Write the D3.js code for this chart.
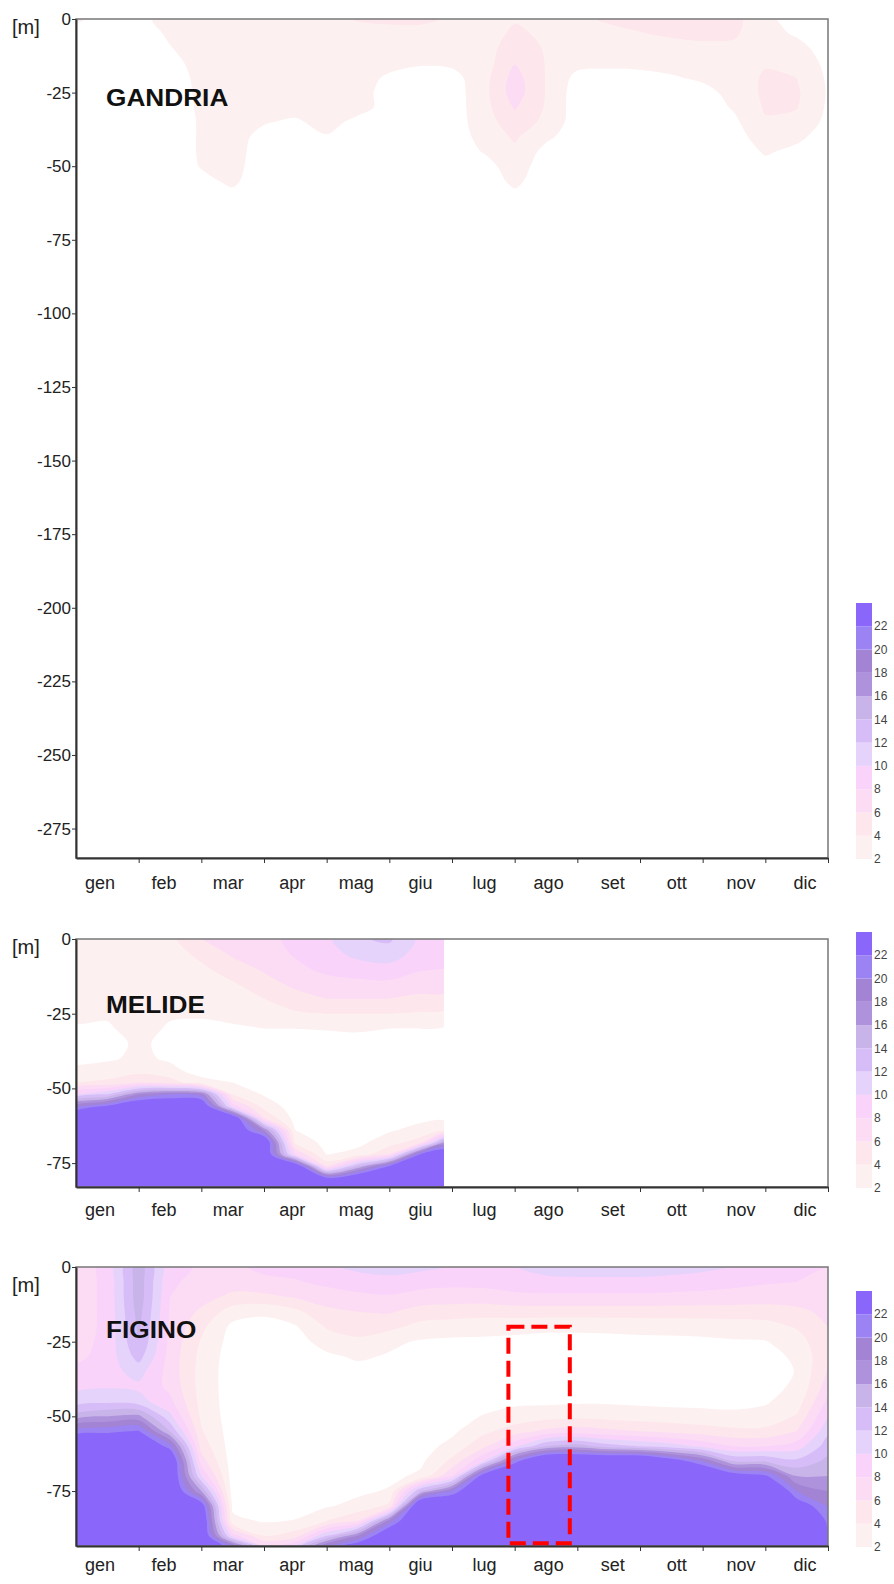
<!DOCTYPE html>
<html>
<head>
<meta charset="utf-8">
<script src="https://cdn.jsdelivr.net/npm/d3@7"></script>
<style>
  body { margin: 0; background: #fff; }
  svg { display: block; font-family: "Liberation Sans", Arial, sans-serif; }
</style>
</head>
<body>
<div id="chart"></div>
<script>
// ---- data ----
let months = ["gen", "feb", "mar", "apr", "mag", "giu", "lug", "ago", "set", "ott", "nov", "dic"];
let levels = [2, 4, 6, 8, 10, 12, 14, 16, 18, 20, 22];
let levelColors = ["#fdf0f0", "#fde6ec", "#fcdcf4", "#f9d3fa", "#e6d3fb", "#d7bdf8",
                   "#c9b4ea", "#ae92dc", "#a283d4", "#9c83f3", "#8a66fb"];

// sampling times, in months from 1 January
let halfMonthTimes = [0, 0.5, 1, 1.5, 2, 2.5, 3, 3.5, 4, 4.5, 5, 5.5, 6, 6.5, 7, 7.5, 8, 8.5, 9, 9.5, 10, 10.5, 11, 11.5, 12];
let melideTimes = [0, 0.5, 1, 1.5, 2, 2.5, 3, 3.5, 4, 4.5, 5, 5.5, 5.87];

// depths (m) of each profile value
let gandriaDepths = [0, 5, 10, 15, 20, 25, 30, 35, 40, 45, 50, 55, 60, 65, 285];
let melideDepths = [0, 5, 10, 15, 20, 25, 30, 35, 40, 44, 48, 52, 56, 60, 64, 68, 72, 76, 80, 83];
let figinoDepths = [0, 5, 10, 15, 20, 25, 30, 35, 40, 45, 50, 55, 60, 65, 70, 75, 80, 85, 90, 93.4];

// one profile per sampling time
let gandriaProfiles = [
  [2.3, 1.2, 1, 1, 1, 1, 1, 1, 1, 1, 1, 1, 1, 1, 1],
  [1.2, 1, 1, 1, 1, 1, 1, 1, 1, 1, 1, 1, 1, 1, 1],
  [1.4, 1, 1, 1, 1, 1, 1, 1, 1, 1, 1, 1, 1, 1, 1],
  [2.8, 2.3, 1.9, 1.4, 1.1, 1, 1, 1, 1, 1, 1, 1, 1, 1, 1],
  [3, 3, 2.9, 2.7, 2.5, 2.4, 2.3, 2.2, 2.2, 2.2, 2.1, 1.6, 1, 1, 1],
  [3, 3, 3, 3, 3, 3, 3, 3, 3, 2.8, 2.6, 2.3, 1.6, 1, 1],
  [3, 3, 3, 3, 3, 3, 3, 2.2, 1.2, 1, 1, 1, 1, 1, 1],
  [3, 3, 3, 3, 3, 3, 3, 1.6, 1, 1, 1, 1, 1, 1, 1],
  [3, 3, 3, 3, 3, 3, 3, 3, 1.8, 1, 1, 1, 1, 1, 1],
  [4.2, 3, 3, 3, 3, 3, 3, 1.2, 1, 1, 1, 1, 1, 1, 1],
  [4.6, 3, 3, 2.8, 1.6, 1, 1, 1, 1, 1, 1, 1, 1, 1, 1],
  [4.5, 3.2, 3, 2.2, 1.2, 1, 1, 1, 1, 1, 1, 1, 1, 1, 1],
  [3.6, 3, 3, 2.4, 1.3, 1, 1, 1, 1, 1, 1, 1, 1, 1, 1],
  [3, 3, 3, 3, 3.2, 3.3, 3.2, 3, 2.6, 2.1, 1.2, 1, 1, 1, 1],
  [3.8, 4.4, 5.2, 5.9, 6.8, 7.0, 6.2, 5.2, 4.3, 3.6, 3.0, 2.4, 1.6, 1, 1],
  [3.4, 3.6, 3.8, 3.9, 3.9, 3.9, 3.8, 3.5, 2.4, 1.4, 1, 1, 1, 1, 1],
  [3.5, 3.3, 3, 2.6, 1.4, 1, 1, 1, 1, 1, 1, 1, 1, 1, 1],
  [4.3, 3.4, 3, 2.4, 1.3, 1, 1, 1, 1, 1, 1, 1, 1, 1, 1],
  [4.6, 3.9, 3, 2.5, 1.4, 1, 1, 1, 1, 1, 1, 1, 1, 1, 1],
  [4.8, 4.3, 3.2, 2.7, 1.8, 1, 1, 1, 1, 1, 1, 1, 1, 1, 1],
  [4.8, 4.4, 3.6, 3.0, 2.3, 1.4, 1, 1, 1, 1, 1, 1, 1, 1, 1],
  [4.6, 4.3, 3.5, 3.0, 2.8, 2.6, 2.2, 1.6, 1.2, 1, 1, 1, 1, 1, 1],
  [2.4, 2.6, 3.2, 3.8, 4.3, 4.4, 4.2, 3.8, 3.0, 2.2, 1.5, 1, 1, 1, 1],
  [1.2, 1.8, 2.6, 3.3, 4.0, 4.3, 4.1, 3.4, 2.4, 1.6, 1, 1, 1, 1, 1],
  [1, 1, 1.2, 1.5, 1.7, 1.8, 1.7, 1.5, 1.2, 1, 1, 1, 1, 1, 1]
];

let melideProfiles = [
  [3.0, 3.0, 2.8, 2.6, 2.4, 2.2, 1.9, 1.5, 1.7, 2.2, 4, 10, 20, 26, 26, 26, 26, 26, 26, 26],
  [3.0, 2.9, 2.7, 2.5, 2.3, 2.1, 1.9, 1.6, 1.8, 2.6, 4.5, 12, 22.5, 26, 26, 26, 26, 26, 26, 26],
  [3.2, 3.0, 2.8, 2.6, 2.5, 2.4, 2.3, 2.2, 2.3, 3.2, 6, 18, 26, 26, 26, 26, 26, 26, 26, 26],
  [3.4, 3.1, 2.8, 2.5, 2.3, 2.1, 1.9, 1.7, 1.8, 2.4, 5, 20, 26, 26, 26, 26, 26, 26, 26, 26],
  [6.0, 4.5, 3.6, 3.0, 2.6, 2.2, 1.6, 1.2, 1.2, 1.4, 2.5, 19, 26, 26, 26, 26, 26, 26, 26, 26],
  [7.0, 6.3, 5.0, 3.8, 3.0, 2.4, 1.8, 1.2, 1.0, 1.0, 2.0, 4.0, 9, 26, 26, 26, 26, 26, 26, 26],
  [7.5, 7.0, 6.3, 5.2, 4.0, 2.8, 2.0, 1.3, 1.0, 1.0, 1.0, 1.8, 3.2, 6.0, 18, 26, 26, 26, 26, 26],
  [8.4, 8.2, 7.5, 6.5, 5.2, 3.7, 2.0, 1.3, 1, 1, 1, 1, 1, 1.3, 2.0, 3.5, 8, 26, 26, 26],
  [9.6, 9.2, 8.5, 7.2, 6.0, 4.0, 2.1, 1.3, 1, 1, 1, 1, 1, 1, 1, 1.3, 1.9, 5.5, 22.5, 26],
  [11.8, 10.6, 9.0, 7.5, 6.0, 4.0, 2.2, 1.4, 1, 1, 1, 1, 1, 1, 1.1, 1.5, 2.6, 14, 26, 26],
  [12.3, 11.2, 9.2, 7.6, 6.0, 4.0, 2.0, 1.4, 1, 1, 1, 1, 1, 1.3, 1.8, 3.0, 6, 22, 26, 26],
  [9.5, 9.0, 8.2, 7.0, 5.5, 3.8, 2.0, 1.3, 1, 1, 1, 1, 1, 1.6, 2.6, 5, 22, 26, 26, 26],
  [8.5, 8.4, 8.0, 7.0, 5.5, 3.6, 1.8, 1.2, 1, 1, 1, 1, 1, 1.8, 3.0, 16, 26, 26, 26, 26]
];

let figinoProfiles = [
  [7, 7, 7, 7, 7, 7.2, 7.5, 8.5, 9.5, 11, 15, 21, 26, 26, 26, 26, 26, 26, 26, 26],
  [8.5, 8.5, 8.5, 8.5, 8.5, 8.6, 8.8, 9.2, 9.8, 11.5, 16, 21.5, 26, 26, 26, 26, 26, 26, 26, 26],
  [15.2, 15.2, 15.2, 14.8, 14.4, 14, 12.8, 10.8, 9.6, 10.8, 16.5, 22.2, 26, 26, 26, 26, 26, 26, 26, 26],
  [8.5, 8.3, 8, 7.8, 7.6, 7.4, 7.2, 7.2, 7.5, 8.5, 10.5, 14, 21, 26, 26, 26, 26, 26, 26, 26],
  [7.8, 7.4, 6.8, 5.6, 4.5, 3.8, 3.4, 3.2, 3.2, 3.3, 3.6, 4.2, 5.2, 7, 10, 16, 24, 26, 26, 26],
  [7.5, 7, 5.5, 3.0, 1.5, 1.2, 1, 1, 1, 1, 1, 1, 1, 1, 1, 1, 1.5, 2.6, 9, 20],
  [8.5, 7.5, 5.5, 2.4, 1.2, 1, 1, 1, 1, 1, 1, 1, 1, 1, 1, 1, 1.1, 1.8, 4, 8],
  [8.8, 7.8, 6.2, 3.5, 1.8, 1.2, 1, 1, 1, 1, 1, 1, 1, 1, 1, 1, 1.2, 2.1, 5, 10],
  [9.5, 8.5, 7, 5.5, 4.2, 2.8, 1.6, 1.1, 1, 1, 1, 1, 1, 1, 1, 1.2, 1.8, 4, 12, 20],
  [10.5, 9, 7.5, 6, 4.8, 3.6, 2.3, 1.3, 1, 1, 1, 1, 1, 1, 1.2, 1.6, 2.6, 6, 18, 24],
  [11, 9.2, 7.8, 6.2, 4.6, 2.4, 1.8, 1.2, 1, 1, 1, 1, 1, 1.1, 1.5, 2.2, 4.5, 19, 26, 26],
  [10.5, 8.8, 7.2, 5.2, 3.3, 1.8, 1.2, 1, 1, 1, 1, 1, 1.2, 1.6, 2.4, 14, 28, 28, 28, 28],
  [9.8, 8.6, 7, 5, 3, 1.6, 1.2, 1, 1, 1, 1.2, 1.6, 2.6, 4.5, 8, 20, 28, 28, 28, 28],
  [9.8, 8.7, 7, 4.8, 2.8, 1.6, 1.2, 1.2, 1.2, 1.3, 2.1, 3.5, 5.5, 10, 24, 28, 28, 28, 28, 28],
  [9.9, 9.2, 7.4, 5, 2.6, 1.5, 1.2, 1.2, 1.2, 1.6, 2.8, 5, 9.5, 21, 28, 28, 28, 28, 28, 28],
  [10.8, 9.4, 7.5, 5, 2.4, 1.4, 1.2, 1.2, 1.2, 1.6, 3.2, 6.5, 14, 28, 28, 28, 28, 28, 28, 28],
  [11, 9.5, 7.5, 5, 2.4, 1.4, 1.2, 1.2, 1.2, 1.7, 3.5, 7, 15, 28, 28, 28, 28, 28, 28, 28],
  [11, 9.5, 7.5, 5, 2.5, 1.4, 1.2, 1.2, 1.2, 1.7, 3.3, 6.5, 13, 28, 28, 28, 28, 28, 28, 28],
  [11, 9.5, 7.5, 5, 2.6, 1.5, 1.2, 1.2, 1.2, 1.6, 3, 6, 12, 28, 28, 28, 28, 28, 28, 28],
  [10.8, 9.3, 7.4, 5, 2.7, 1.5, 1.2, 1.2, 1.2, 1.5, 2.8, 5.5, 11, 24, 28, 28, 28, 28, 28, 28],
  [10.5, 9, 7.3, 5, 2.8, 1.6, 1.2, 1.2, 1.2, 1.5, 2.6, 5, 9.5, 20, 28, 28, 28, 28, 28, 28],
  [9.8, 8.6, 7.2, 5, 3, 1.8, 1.4, 1.3, 1.3, 1.5, 2.4, 4.5, 8, 14, 24, 28, 28, 28, 28, 28],
  [9, 8.2, 7, 5, 3.2, 1.9, 1.6, 1.5, 1.6, 1.8, 2.6, 4.5, 8, 14, 22.5, 28, 28, 28, 28, 28],
  [8.5, 8, 7, 5.5, 4.2, 3.0, 2.2, 2.05, 2.2, 2.9, 4.2, 6, 9, 12.5, 16, 20, 24, 28, 28, 28],
  [8, 7.8, 7.2, 6.5, 6, 5.8, 5.8, 6.2, 7, 8.5, 10, 11.5, 13, 14.5, 16, 18, 20, 21.5, 22.5, 23]
];

let gandriaTicks = [0, -25, -50, -75, -100, -125, -150, -175, -200, -225, -250, -275];
let shortTicks = [0, -25, -50, -75];

// dashed box on FIGINO: [start month, end month], [top depth, bottom depth]
let highlightMonths = [6.9, 7.88];
let highlightDepths = [20, 92.5];

// ---- layout ----
let w = 894;
let h = 1584;
let xLeft = 76;
let xRight = 828;

let panels = [
  { name: "GANDRIA", times: halfMonthTimes, depths: gandriaDepths, profiles: gandriaProfiles,
    ticks: gandriaTicks, top: 19, bottom: 858, maxDepth: 285, labelY: 106, mY: 34, monthY: 31 },
  { name: "MELIDE", times: melideTimes, depths: melideDepths, profiles: melideProfiles,
    ticks: shortTicks, top: 939, bottom: 1187, maxDepth: 83, labelY: 1013, mY: 954, monthY: 29 },
  { name: "FIGINO", times: halfMonthTimes, depths: figinoDepths, profiles: figinoProfiles,
    ticks: shortTicks, top: 1267, bottom: 1546, maxDepth: 93.4, labelY: 1338, mY: 1292, monthY: 25 }
];

let svg = d3.select("#chart")
  .append("svg")
    .attr("width", w)
    .attr("height", h);

let xScale = d3.scaleLinear().domain([0, 12]).range([xLeft, xRight]);
let labelScale = d3.scalePoint().domain(months).range([100, 805]);
let defs = svg.append("defs");

panels.forEach(function(p, k){
  let yScale = d3.scaleLinear().domain([0, -p.maxDepth]).range([p.top, p.bottom]);
  let g = svg.append("g").attr("class", "panel");

  let n = p.times.length;
  let m = p.depths.length;
  let values = [];
  for (let j = 0; j < m; j++) {
    for (let i = 0; i < n; i++) values.push(p.profiles[i][j]);
  }
  // grid index -> time / depth
  let tIndex = d3.scaleLinear().domain(d3.range(n)).range(p.times);
  let dIndex = d3.scaleLinear().domain(d3.range(m)).range(p.depths);

  let x0 = xScale(p.times[0]);
  let x1 = xScale(p.times[n - 1]);
  defs.append("clipPath").attr("id", "clip" + k)
    .append("rect")
      .attr("x", x0).attr("y", p.top)
      .attr("width", x1 - x0)
      .attr("height", yScale(-p.depths[m - 1]) - p.top);

  let contours = d3.contours().size([n, m]).thresholds(levels)(values);
  let line = d3.line().curve(d3.curveCatmullRomClosed.alpha(0.5));

  function ringPath(ring){
    let pts = ring.slice(0, -1).map(function(c){
      return [xScale(tIndex(c[0] - 0.5)), yScale(-dIndex(c[1] - 0.5))];
    });
    return line(pts);
  }

  g.append("g")
    .attr("clip-path", "url(#clip" + k + ")")
    .selectAll("path")
    .data(contours)
    .join("path")
      .attr("d", c => c.coordinates.map(poly => poly.map(ringPath).join("")).join(""))
      .attr("fill", (c, i) => levelColors[i])
      .attr("fill-rule", "evenodd");

  // frame
  g.append("rect")
    .attr("x", xLeft).attr("y", p.top)
    .attr("width", xRight - xLeft).attr("height", p.bottom - p.top)
    .attr("fill", "none")
    .attr("stroke", "#777")
    .attr("stroke-width", 1.5);

  // y axis
  let yAxisGroup = g.append("g")
    .attr("transform", "translate(" + xLeft + ",0)")
    .call(d3.axisLeft(yScale).tickValues(p.ticks).tickSize(4).tickSizeOuter(0).tickPadding(1)
      .tickFormat(d => String(d)));
  yAxisGroup.select(".domain").attr("stroke", "#333").attr("stroke-width", 2);
  yAxisGroup.selectAll(".tick line").attr("stroke", "#333");
  yAxisGroup.selectAll(".tick text")
    .attr("fill", "#222")
    .style("font-size", "17px")
    .style("font-family", "'Liberation Sans', Arial, sans-serif");

  // x axis (ticks on month boundaries, labels between)
  let xAxisGroup = g.append("g")
    .attr("transform", "translate(0," + p.bottom + ")")
    .call(d3.axisBottom(xScale).tickValues(d3.range(1, 13)).tickSize(5).tickSizeOuter(0).tickFormat(""));
  xAxisGroup.select(".domain").attr("stroke", "#333").attr("stroke-width", 2);
  xAxisGroup.selectAll(".tick line").attr("stroke", "#333");

  g.append("g").selectAll("text")
    .data(months)
    .join("text")
      .attr("x", d => labelScale(d))
      .attr("y", p.bottom + p.monthY)
      .attr("text-anchor", "middle")
      .attr("fill", "#222")
      .style("font-size", "18px")
      .text(d => d);

  g.append("text")
    .attr("x", 12)
    .attr("y", p.mY)
    .attr("fill", "#222")
    .style("font-size", "20px")
    .text("[m]");

  g.append("text")
    .attr("transform", "translate(106," + p.labelY + ") scale(1.14,1)")
    .attr("fill", "#111")
    .style("font-size", "23px")
    .style("font-weight", "bold")
    .text(p.name);

  // colour bar
  let cb = d3.scaleLinear().domain([2, 24]).range([p.bottom + 1, p.bottom + 1 - 256]);
  let cbGroup = g.append("g");
  cbGroup.selectAll("rect")
    .data(levels)
    .join("rect")
      .attr("x", 856)
      .attr("width", 16)
      .attr("y", d => cb(d + 2))
      .attr("height", d => cb(d) - cb(d + 2))
      .attr("fill", (d, i) => levelColors[i]);
  cbGroup.selectAll("text")
    .data(levels)
    .join("text")
      .attr("x", 874)
      .attr("y", d => cb(d))
      .attr("dy", "0.35em")
      .attr("fill", "#444")
      .style("font-size", "12px")
      .text(d => d);

  if (p.name === "FIGINO") {
    g.append("rect")
      .attr("x", xScale(highlightMonths[0]))
      .attr("y", yScale(-highlightDepths[0]))
      .attr("width", xScale(highlightMonths[1]) - xScale(highlightMonths[0]))
      .attr("height", yScale(-highlightDepths[1]) - yScale(-highlightDepths[0]))
      .attr("fill", "none")
      .attr("stroke", "#ff0000")
      .attr("stroke-width", 4)
      .attr("stroke-dasharray", "16,7");
  }
});
</script>
</body>
</html>
